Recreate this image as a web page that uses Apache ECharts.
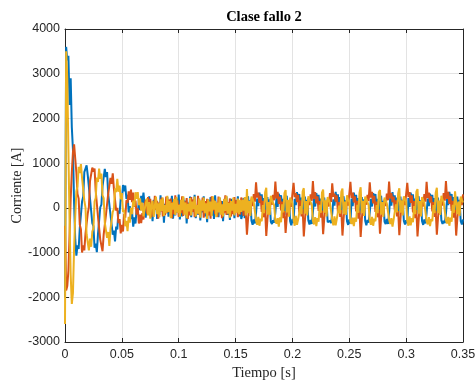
<!DOCTYPE html>
<html><head><meta charset="utf-8">
<script src="https://cdn.jsdelivr.net/npm/echarts@6/dist/echarts.min.js"></script>
<style>html,body{margin:0;padding:0;background:#fff}#c{width:476px;height:381px}</style>
</head><body><div id="c"></div>
<script>
// sampling period of the recorded signals (s)
const sampleStep = 0.001;
const xTickValues = [0, 0.05, 0.1, 0.15, 0.2, 0.25, 0.3, 0.35];
const yTickValues = [-3000, -2000, -1000, 0, 1000, 2000, 3000, 4000];

const corrienteA = [
-2000,3600,3300,3400,2300,2900,1800,1300,100,-700,
-1070,-840,-920,-450,-430,140,250,800,820,950,
730,740,210,180,-340,-410,-890,-800,-990,-590,
-600,10,70,480,490,870,690,800,300,300,
-150,-130,-600,-510,-750,-420,-480,-60,-130,210,
150,510,370,500,200,290,-100,40,-250,-100,
-420,-210,-350,-30,-140,190,-50,270,110,340,
80,
-220,150,-90,260,-180,60,-300,180,-40,220,
-250,110,-160,280,-70,190,-330,90,-120,240,
-200,140,-60,270,-240,50,-170,210,-110,300,
-260,80,-190,230,-50,160,-350,120,-140,250,
-210,170,-80,290,-230,60,-150,200,-280,130,
-100,260,-190,40,-320,180,-60,240,-170,100,
-250,280,-130,70,-210,220,-90,150,-300,190,
-40,250,-160,110,-270,200,-120,60,-230,170,
-80,260,-190,130,-250,
-150,220,-230,90,
120,260,-80,170,-290,-380,-260,-350,-120,210,40,340,150,300,-20,220,-140,
100,240,-60,190,-310,-360,-280,-330,-100,230,20,320,170,280,0,200,-160,
140,270,-90,160,-300,-390,-250,-340,200,60,350,140,310,-30,230,-130,
110,250,-70,180,-280,-370,-270,-360,-110,220,30,330,160,290,-10,210,-150,
130,230,-100,150,-320,-350,-290,-340,-130,190,50,360,140,300,-40,240,-120,
100,260,-80,170,-300,-380,-260,-350,210,40,340,150,290,-20,220,-150,
120,240,-60,190,-290,-390,-270,-330,-100,200,30,330,170,310,-10,200,-140,
140,270,-90,160,-310,-360,-250,-360,-120,230,50,350,130,280,-30,230,-160,
110,250,-70,180,-290,-370,-280,-340,220,20,340,160,300,-20,210,-130,
130,260,-100,170,-300,-380,-260,-350,-110,210,40,320,150,290,0,220,-150,
100,230,-80,150,-280,-360,-290,-340,-130,200,60,360,140,310,-40,240,-140,
120,250,-70,180,-300,-370,-260
];

const corrienteB = [
-400,-1850,-1750,-1400,-600,200,800,1250,1420,1100,
790,310,210,-380,-480,-1000,-840,-950,-580,-620,
-130,20,600,630,900,810,880,380,350,-190,
-220,-710,-700,-970,-600,-640,-160,-160,320,310,
670,540,770,430,440,-60,0,-340,-250,-570,
-380,-530,-140,-220,170,110,370,180,410,130,
340,20,160,-150,-10,-350,-150,-340,-120,-260,
70,
180,-130,240,-60,200,-210,90,-150,270,-40,
160,-240,120,-80,230,-190,50,-160,250,-110,
190,-70,210,-230,130,-140,280,-50,170,-200,
80,-120,260,-180,140,-60,220,-250,100,-170,
240,-90,190,-210,60,-130,270,-150,120,-70,
230,-220,150,-100,200,-170,90,-240,260,-60,
180,-140,110,-200,250,-80,160,-230,70,-120,
280,-160,130,-50,210,-190,100,-140,240,-90,
170,-210,60,-150,230,
120,-180,200,-100,
-600,-240,90,-120,210,40,310,140,570,230,340,110,270,-90,160,-210,-40,
-630,-260,60,-90,230,70,290,170,590,210,360,90,250,-60,140,-230,-70,
-560,-220,100,-140,190,20,320,560,240,330,130,290,-110,170,-190,-30,
-640,-270,70,-110,220,60,300,160,600,200,350,100,260,-70,150,-220,-60,
-590,-230,110,-130,200,30,330,130,550,250,320,140,280,-100,130,-200,-50,
-620,-250,80,-100,240,50,310,580,220,340,120,260,-80,160,-240,-60,
-650,-260,50,-120,210,70,290,150,570,230,360,100,270,-90,140,-210,-40,
-580,-220,90,-140,190,40,320,170,590,210,330,130,250,-60,170,-190,-70,
-610,-240,100,-110,230,60,300,560,240,350,110,280,-100,150,-230,-50,
-640,-270,70,-130,220,30,310,140,580,220,340,120,260,-80,130,-200,-60,
-600,-230,80,-100,200,50,330,160,600,200,360,90,270,-70,160,-220,-40,
-620,-250,90,-120,210,60,300
];

const corrienteC = [
-2600,3500,2900,1300,-300,-1500,-2150,-1900,-900,-200,
370,480,920,780,980,670,680,160,10,-590,
-600,-950,-690,-870,-530,-460,140,220,680,580,
880,650,770,280,220,-330,-350,-670,-540,-850,
-470,-510,-90,-30,440,350,650,360,500,190,
330,-90,-40,-410,-290,-520,-200,-330,0,-140,
160,30,350,200,350,60,210,-60,120,-190,
-30,
-60,210,-170,130,-240,80,160,-200,40,250,
-140,100,-210,190,-70,230,-180,60,-120,270,
-90,150,-230,110,-40,200,-160,240,-110,70,
-200,180,-50,260,-150,120,-230,90,-80,220,
-170,140,-30,250,-190,60,-130,210,-220,170,
-60,230,-120,100,-250,190,-80,140,-180,260,
-40,160,-210,120,-100,240,-150,80,-190,200,
-70,270,-130,110,-220,150,-60,230,-170,90,
-110,210,-140,180,-90,
180,-60,240,-170,
420,-120,160,-180,250,200,120,80,-280,-380,-200,-400,-240,-300,60,-120,350,
450,-150,130,-160,270,170,140,50,-300,-350,-230,-420,-210,-320,80,-100,330,
400,-100,180,-200,230,220,100,-260,-400,-180,-380,-260,-280,40,-140,370,
440,-130,150,-170,260,190,130,70,-290,-370,-210,-410,-230,-310,70,-110,340,
410,-110,170,-190,240,210,110,90,-270,-390,-190,-390,-250,-290,50,-130,360,
430,-140,140,-160,280,180,130,-300,-360,-220,-410,-220,-310,70,-110,340,
460,-120,160,-180,250,200,120,60,-280,-380,-200,-400,-240,-300,60,-120,350,
400,-150,130,-200,230,220,100,80,-260,-360,-230,-420,-260,-280,80,-100,330,
440,-110,170,-170,260,190,140,-290,-400,-190,-390,-230,-320,40,-140,360,
420,-130,150,-190,240,200,110,70,-300,-370,-210,-410,-250,-300,60,-120,340,
450,-120,160,-160,270,180,130,90,-280,-350,-200,-400,-220,-310,70,-110,370,
410,-140,140,-180,250,210,120
];

const seriesNames = ['Fase A', 'Fase B', 'Fase C'];
const seriesColors = ['#0072BD', '#D95319', '#EDB120'];
const seriesValues = [corrienteA, corrienteB, corrienteC];

function toPairs(vals) {
  return vals.map((v, i) => [Math.round(i * sampleStep * 1e6) / 1e6, v]);
}

const axisColor = '#262626';
const labelFont = 'Liberation Sans, Arial, Helvetica, sans-serif';
const serifFont = 'Liberation Serif, Times New Roman, serif';

const chart = echarts.init(document.getElementById('c'), null, {renderer: 'canvas'});
chart.setOption({
  animation: false,
  backgroundColor: '#ffffff',
  title: {
    text: 'Clase fallo 2',
    left: 259, top: 5, textAlign: 'center',
    textStyle: {fontFamily: serifFont, fontWeight: 'bold', fontSize: 14.5, color: '#000'}
  },
  grid: {left: 65, right: 13, top: 29, bottom: 39, containLabel: false, outerBoundsMode: 'none'},
  xAxis: [{
    type: 'value', min: 0, max: 0.35, interval: 0.05,
    name: 'Tiempo [s]', nameLocation: 'middle', nameGap: 24, nameMoveOverlap: false,
    nameTextStyle: {fontFamily: serifFont, fontSize: 14.5, color: axisColor},
    axisLine: {show: true, onZero: false, lineStyle: {color: axisColor, width: 1}},
    axisTick: {show: true, inside: true, length: 4, lineStyle: {color: axisColor}},
    axisLabel: {margin: 6, fontFamily: labelFont, fontSize: 12.5, color: axisColor,
      formatter: v => String(Math.round(v * 100) / 100)},
    splitLine: {show: true, lineStyle: {color: '#e3e3e3', width: 1}}
  }, {
    type: 'value', min: 0, max: 0.35, interval: 0.05, position: 'top',
    axisLine: {show: true, onZero: false, lineStyle: {color: axisColor, width: 1}},
    axisTick: {show: true, inside: true, length: 4, lineStyle: {color: axisColor}},
    axisLabel: {show: false}, splitLine: {show: false}
  }],
  yAxis: [{
    type: 'value', min: -3000, max: 4000, interval: 1000,
    name: 'Corriente [A]', nameLocation: 'middle', nameGap: 41, nameRotate: 90, nameMoveOverlap: false,
    nameTextStyle: {fontFamily: serifFont, fontSize: 14, color: axisColor},
    axisLine: {show: true, onZero: false, lineStyle: {color: axisColor, width: 1}},
    axisTick: {show: true, inside: true, length: 4, lineStyle: {color: axisColor}},
    axisLabel: {margin: 5, fontFamily: labelFont, fontSize: 12.5, color: axisColor,
      formatter: v => String(v)},
    splitLine: {show: true, lineStyle: {color: '#e3e3e3', width: 1}}
  }, {
    type: 'value', min: -3000, max: 4000, interval: 1000, position: 'right',
    axisLine: {show: true, onZero: false, lineStyle: {color: axisColor, width: 1}},
    axisTick: {show: true, inside: true, length: 4, lineStyle: {color: axisColor}},
    axisLabel: {show: false}, splitLine: {show: false}
  }],
  series: seriesValues.map((vals, k) => ({
    name: seriesNames[k], type: 'line', xAxisIndex: 0, yAxisIndex: 0,
    data: toPairs(vals), showSymbol: false, symbol: 'none', clip: true,
    lineStyle: {color: seriesColors[k], width: 2}, itemStyle: {color: seriesColors[k]},
    z: 2 + k
  }))
});
</script>
</body></html>
